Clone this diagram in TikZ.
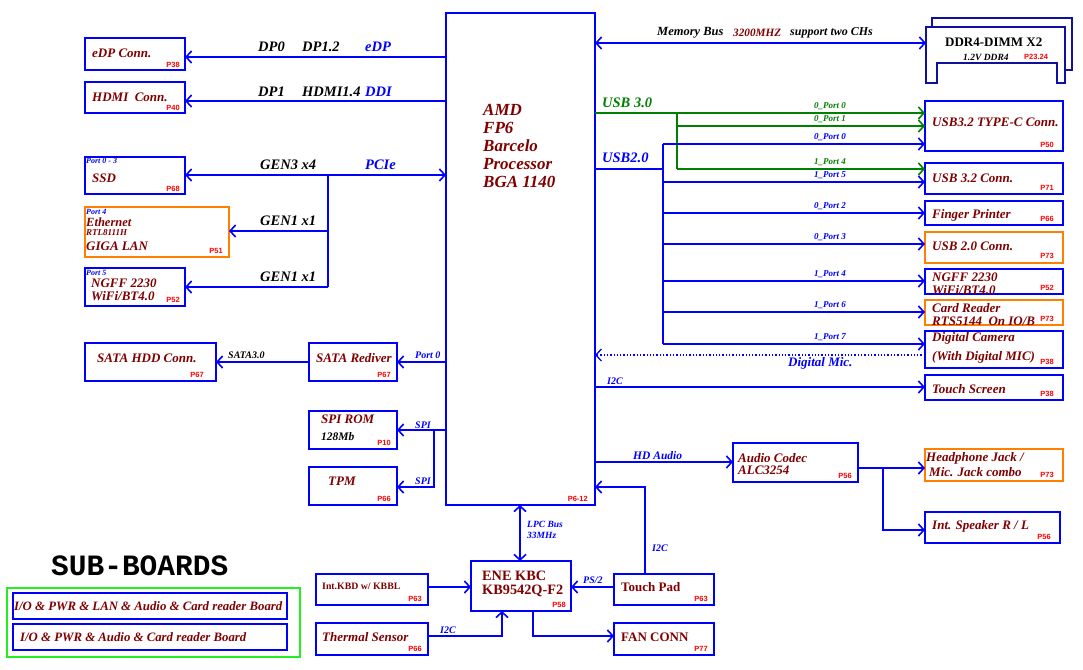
\documentclass[tikz,border=0pt]{standalone}
\usepackage{fontspec}
\setmainfont{Liberation Serif}
\newfontfamily\monob{Liberation Mono}
\newfontfamily\sansb{Liberation Sans}
\usetikzlibrary{arrows.meta}
\definecolor{mar}{HTML}{800000}
\definecolor{bl}{HTML}{0000FF}
\definecolor{og}{HTML}{FF8000}
\definecolor{gr}{HTML}{008000}
\definecolor{nv}{HTML}{1010A0}
\definecolor{lg}{HTML}{22EE22}
\newcommand\fs[1]{\fontsize{#1}{#1}\selectfont}
\newcommand\mkbox[6]{\node[#6, minimum width=#4pt-#2pt, minimum height=#5pt-#3pt] (#1) at ({(#2+#4)/2},{(#3+#5)/2}) {};}
\begin{document}
\begin{tikzpicture}[x=1pt,y=-1pt,
  box/.style={draw=bl, line width=1.6pt, inner sep=0pt, outer sep=0pt, rectangle},
  obox/.style={box, draw=og},
  gbox/.style={box, draw=lg},
  btxt/.style={anchor=west, inner sep=0pt, text=mar, font=\bfseries\itshape\fs{13}},
  utxt/.style={anchor=west, inner sep=0pt, text=mar, font=\bfseries\fs{13}},
  pglbl/.style={anchor=south east, inner sep=0pt, text=red, font=\sansb\bfseries\fs{7.5}},
  blab/.style={anchor=west, inner sep=0pt, font=\bfseries\itshape\fs{14.5}},
  slab/.style={anchor=west, inner sep=0pt, text=bl, font=\bfseries\itshape\fs{10}},
  inlab/.style={anchor=west, inner sep=0pt, text=bl, font=\bfseries\itshape\fs{8}},
  plab/.style={anchor=center, inner sep=0pt, text=bl, font=\bfseries\itshape\fs{9}},
  gplab/.style={plab, text=gr},
  lin/.style={draw=bl, line width=1.6pt},
  glin/.style={draw=gr, line width=1.6pt},
  arw/.style={lin, -{Straight Barb[length=5.5pt,width=12pt]}},
  gar/.style={glin, -{Straight Barb[length=5.5pt,width=12pt]}},
  barw/.style={lin, {Straight Barb[length=5.5pt,width=12pt]}-{Straight Barb[length=5.5pt,width=12pt]}}
]
\useasboundingbox (0,0) rectangle (1083,669);

% ---------- CPU ----------
\mkbox{cpu}{446}{13}{595}{505}{box}
\node[btxt, font=\bfseries\itshape\fontsize{17}{18}\selectfont, align=left] (cpuT) at (483,146) {AMD\\FP6\\Barcelo\\Processor\\BGA 1140};
\node[pglbl] (cpuP) at (588,502) {P6-12};

% ---------- left boxes ----------
\mkbox{edp}{85}{38}{185}{70}{box}
\node[btxt] (edpT) at (92,53) {eDP Conn.};
\node[pglbl] (edpP) at (180,68) {P38};
\mkbox{hdmi}{85}{82}{185}{113}{box}
\node[btxt] (hdmiT) at (92,97) {HDMI\ \ Conn.};
\node[pglbl] (hdmiP) at (180,111) {P40};
\mkbox{ssd}{85}{157}{185}{194}{box}
\node[inlab] (ssdS) at (86,161) {Port 0 - 3};
\node[btxt] (ssdT) at (92,178) {SSD};
\node[pglbl] (ssdP) at (180,192) {P68};
\mkbox{lan}{85}{207}{229}{257}{obox}
\node[inlab] (lanS) at (86,211.5) {Port 4};
\node[btxt, font=\bfseries\itshape\fs{12.5}] (lanT1) at (86,222) {Ethernet};
\node[btxt, font=\bfseries\itshape\fs{9}] (lanT2) at (86,233) {RTL8111H};
\node[btxt] (lanT3) at (86,246.5) {GIGA LAN};
\node[pglbl] (lanP) at (223,254) {P51};
\mkbox{wifi}{85}{268}{185}{306}{box}
\node[inlab] (wifiS) at (86,272.5) {Port 5};
\node[btxt] (wifiT1) at (91,283) {NGFF 2230};
\node[btxt] (wifiT2) at (91,296) {WiFi/BT4.0};
\node[pglbl] (wifiP) at (180,303) {P52};

\node[blab] (l1) at (258,47) {DP0};
\node[blab] (l2) at (302,47) {DP1.2};
\node[blab, text=bl] (l3) at (365,47) {eDP};
\node[blab] (l4) at (258,92) {DP1};
\node[blab] (l5) at (302,92) {HDMI1.4};
\node[blab, text=bl] (l6) at (365,92) {DDI};
\node[blab] (l7) at (260,165) {GEN3 x4};
\node[blab, text=bl] (l8) at (365,165) {PCIe};
\node[blab] (l9) at (260,221) {GEN1 x1};
\node[blab] (l10) at (260,277) {GEN1 x1};

\draw[arw] (cpu.west |- 0,57) -- (edp.east |- 0,57);
\draw[arw] (cpu.west |- 0,101) -- (hdmi.east |- 0,101);
\draw[barw] (ssd.east |- 0,175) -- (cpu.west |- 0,175);
\coordinate (pcis) at (328,175);
\coordinate (pcie) at (328,287);
\draw[lin] (pcis) -- (pcie);
\draw[arw] (pcis |- 0,231) -- (lan.east |- 0,231);
\draw[arw] (pcie) -- (wifi.east |- pcie);

% ---------- SATA / SPI ----------
\mkbox{hdd}{85}{343}{216}{381}{box}
\node[btxt] (hddT) at (97,358) {SATA HDD Conn.};
\node[pglbl] (hddP) at (204,378) {P67};
\mkbox{redr}{309}{343}{397}{381}{box}
\node[btxt] (redT) at (316,358) {SATA Rediver};
\node[pglbl] (redP) at (391,378) {P67};
\node[blab, font=\bfseries\itshape\fs{10}] (sataL) at (228,355) {SATA3.0};
\node[slab] (p0L) at (415,355) {Port 0};
\mkbox{rom}{309}{411}{397}{449}{box}
\node[btxt] (romT) at (321,419) {SPI ROM};
\node[blab, font=\bfseries\itshape\fs{11.5}] (romT2) at (321,437) {128Mb};
\node[pglbl] (romP) at (391,446) {P10};
\mkbox{tpm}{309}{467}{397}{505}{box}
\node[btxt] (tpmT) at (328,481) {TPM};
\node[pglbl] (tpmP) at (391,502) {P66};
\node[slab] (spi1) at (415,425) {SPI};
\node[slab] (spi2) at (415,481) {SPI};

\draw[arw] (cpu.west |- 0,362) -- (redr.east |- 0,362);
\draw[arw] (redr.west |- 0,362) -- (hdd.east |- 0,362);
\draw[arw] (cpu.west |- 0,430) -- (rom.east |- 0,430);
\coordinate (spis) at (434,430);
\draw[arw] (spis) |- (tpm.east |- 0,487);

% ---------- DDR4 ----------
\node[inner sep=0pt, outer sep=0pt, minimum width=139pt, minimum height=36pt] (ddr) at (995.5,45) {};
\draw[nv, line width=1.6pt] (926,27) -- (1065,27) -- (1065,83) -- (1057,83) -- (1057,63) -- (937,63) -- (937,83) -- (926,83) -- cycle;
\draw[nv, line width=1.6pt] (932,27) -- (932,18) -- (1072,18) -- (1072,70) -- (1065,70);
\node[anchor=west, inner sep=0pt, font=\bfseries\fs{13}] (ddrT) at (945,42) {DDR4-DIMM X2};
\node[anchor=west, inner sep=0pt, font=\bfseries\itshape\fs{9.5}] (ddrT2) at (963,57) {1.2V DDR4};
\node[pglbl, anchor=west] (ddrP) at (1024,57) {P23.24};
\draw[barw] (cpu.east |- 0,43) -- (ddr.west |- 0,43);
\node[blab, font=\bfseries\itshape\fs{12.5}] (mb1) at (657,33) {Memory Bus};
\node[blab, font=\bfseries\itshape\fs{11.2}, text=mar] (mb2) at (733,33) {3200MHZ};
\node[blab, font=\bfseries\itshape\fs{12}] (mb3) at (790,33) {support two CHs};

% ---------- USB boxes ----------
\mkbox{tc}{925}{101}{1063}{151}{box}
\node[btxt] (tcT) at (932,122) {USB3.2 TYPE-C Conn.};
\node[pglbl] (tcP) at (1054,148) {P50};
\mkbox{u32}{925}{163}{1063}{194}{box}
\node[btxt] (u32T) at (932,178) {USB 3.2 Conn.};
\node[pglbl] (u32P) at (1054,191) {P71};
\mkbox{fp}{925}{201}{1063}{225}{box}
\node[btxt] (fpT) at (932,215) {Finger Printer};
\node[pglbl] (fpP) at (1054,222) {P66};
\mkbox{u20}{925}{232}{1063}{263}{obox}
\node[btxt] (u20T) at (932,246) {USB 2.0 Conn.};
\node[pglbl] (u20P) at (1054,259) {P73};
\mkbox{ngr}{925}{269}{1063}{294}{box}
\node[btxt] (ngrT1) at (932,277) {NGFF 2230};
\node[btxt] (ngrT2) at (932,290) {WiFi/BT4.0};
\node[pglbl] (ngrP) at (1054,291) {P52};
\mkbox{cr}{925}{300}{1063}{325}{obox}
\node[btxt] (crT1) at (932,308) {Card Reader};
\node[btxt] (crT2) at (932,321) {RTS5144\ \ On IO/B};
\node[pglbl] (crP) at (1054,322) {P73};
\mkbox{cam}{925}{331}{1063}{368}{box}
\node[btxt] (camT1) at (932,338) {Digital Camera};
\node[btxt] (camT2) at (932,357) {(With Digital MIC)};
\node[pglbl] (camP) at (1054,365) {P38};
\mkbox{ts}{925}{375}{1063}{400}{box}
\node[btxt] (tsT) at (932,389) {Touch Screen};
\node[pglbl] (tsP) at (1054,397) {P38};

\node[btxt, text=gr, font=\bfseries\itshape\fs{14.5}] (usb3L) at (602,103) {USB 3.0};
\node[btxt, text=bl, font=\bfseries\itshape\fs{14.5}] (usb2L) at (602,158) {USB2.0};

\coordinate (gsp) at (677,113);
\coordinate (bsp) at (663,169);
\draw[gar] (cpu.east |- gsp) -- (tc.west |- gsp);
\draw[glin] (gsp) -- (gsp |- 0,169);
\draw[gar] (gsp |- 0,126) -- (tc.west |- 0,126);
\draw[gar] (gsp |- 0,169) -- (u32.west |- 0,169);
\draw[lin] (cpu.east |- bsp) -- (bsp);
\draw[lin] (bsp |- 0,144) -- (bsp |- 0,344);
\draw[arw] (bsp |- 0,144) -- (tc.west |- 0,144);
\draw[arw] (bsp |- 0,182) -- (u32.west |- 0,182);
\draw[arw] (bsp |- 0,213) -- (fp.west |- 0,213);
\draw[arw] (bsp |- 0,244) -- (u20.west |- 0,244);
\draw[arw] (bsp |- 0,281) -- (ngr.west |- 0,281);
\draw[arw] (bsp |- 0,312) -- (cr.west |- 0,312);
\draw[arw] (bsp |- 0,344) -- (cam.west |- 0,344);

\node[gplab] (pl1) at (830,106) {0\_Port 0};
\node[gplab] (pl2) at (830,119) {0\_Port 1};
\node[plab] (pl3) at (830,137) {0\_Port 0};
\node[gplab] (pl4) at (830,162) {1\_Port 4};
\node[plab] (pl5) at (830,175) {1\_Port 5};
\node[plab] (pl6) at (830,206) {0\_Port 2};
\node[plab] (pl7) at (830,237) {0\_Port 3};
\node[plab] (pl8) at (830,274) {1\_Port 4};
\node[plab] (pl9) at (830,305) {1\_Port 6};
\node[plab] (pl10) at (830,337) {1\_Port 7};

\draw[bl, line width=1.3pt, dotted, -{Straight Barb[length=5.5pt,width=12pt]}] (cam.west |- 0,355) -- (cpu.east |- 0,355);
\node[btxt, text=bl, font=\bfseries\itshape\fs{13}] (dmL) at (788,363) {Digital Mic.};
\draw[arw] (cpu.east |- 0,387) -- (ts.west |- 0,387);
\node[slab] (i2cL1) at (607,381) {I2C};

% ---------- Audio ----------
\mkbox{codec}{733}{443}{858}{482}{box}
\node[btxt] (codT1) at (738,458) {Audio Codec};
\node[btxt] (codT2) at (738,470) {ALC3254};
\node[pglbl] (codP) at (852,479) {P56};
\draw[arw] (cpu.east |- 0,462) -- (codec.west |- 0,462);
\node[slab, font=\bfseries\itshape\fs{11.5}] (hdaL) at (633,456) {HD Audio};
\mkbox{hp}{925}{449}{1063}{481}{obox}
\node[btxt] (hpT1) at (926,458) {Headphone Jack /};
\node[btxt] (hpT2) at (929,472) {Mic. Jack combo};
\node[pglbl] (hpP) at (1054,478) {P73};
\mkbox{spk}{925}{512}{1060}{543}{box}
\node[btxt] (spkT) at (932,526) {Int. Speaker R / L};
\node[pglbl] (spkP) at (1051,540) {P56};
\coordinate (asp) at (883,468);
\draw[lin] (codec.east |- asp) -- (asp);
\draw[arw] (asp) -- (hp.west |- asp);
\draw[arw] (asp) |- (spk.west |- 0,530);

% ---------- EC area ----------
\mkbox{kbc}{471}{561}{571}{611}{box}
\node[utxt, font=\bfseries\fs{14.3}] (kbcT1) at (482,576) {ENE KBC};
\node[utxt, font=\bfseries\fs{14.3}] (kbcT2) at (482,591) {KB9542Q-F2};
\node[pglbl] (kbcP) at (566,608) {P58};
\draw[barw] (cpu.south -| 520,0) -- (kbc.north -| 520,0);
\node[slab, font=\bfseries\itshape\fs{9.5}] (lpc1) at (527,524) {LPC Bus};
\node[slab, font=\bfseries\itshape\fs{9.5}] (lpc2) at (527,535) {33MHz};

\mkbox{kbd}{316}{574}{428}{605}{box}
\node[utxt, font=\bfseries\fs{9.8}] (kbdT) at (322,586) {Int.KBD w/ KBBL};
\node[pglbl] (kbdP) at (422,602) {P63};
\draw[arw] (kbd.east |- 0,587) -- (kbc.west |- 0,587);

\mkbox{therm}{316}{623}{428}{655}{box}
\node[btxt] (thT) at (322,637) {Thermal Sensor};
\node[pglbl] (thP) at (422,652) {P66};
\draw[arw] (therm.east |- 0,636) -| (kbc.south -| 502,0);
\node[slab] (i2cL2) at (440,630) {I2C};

\mkbox{tp}{614}{574}{714}{605}{box}
\node[utxt] (tpT) at (621,587) {Touch Pad};
\node[pglbl] (tpP) at (708,602) {P63};
\draw[arw] (tp.west |- 0,587) -- (kbc.east |- 0,587);
\node[slab] (ps2L) at (583,580) {PS/2};
\draw[arw] (tp.north -| 645,0) |- (cpu.east |- 0,487);
\node[slab] (i2cL3) at (652,548) {I2C};

\mkbox{fan}{614}{623}{714}{655}{box}
\node[utxt] (fanT) at (621,637) {FAN CONN};
\node[pglbl] (fanP) at (708,652) {P77};
\draw[arw] (kbc.south -| 533,0) |- (fan.west |- 0,636);

% ---------- Sub-boards ----------
\node[anchor=west, inner sep=0pt, font=\monob\bfseries\fs{29.5}] (sbT) at (51,566) {SUB-BOARDS};
\mkbox{sbg}{7}{588}{300}{657}{gbox}
\mkbox{sb1}{13}{593}{287}{619}{box}
\node[btxt, font=\bfseries\itshape\fs{12.8}] (sb1T) at (14,606) {I/O \& PWR \& LAN \& Audio \& Card reader Board};
\mkbox{sb2}{13}{624}{287}{650}{box}
\node[btxt, font=\bfseries\itshape\fs{12.8}] (sb2T) at (20,637) {I/O \& PWR \& Audio \& Card reader Board};
\end{tikzpicture}
\end{document}
